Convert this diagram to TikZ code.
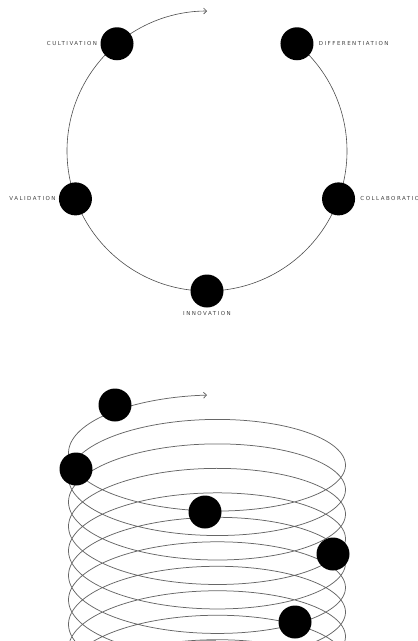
\documentclass[tikz,border=0pt]{standalone}
\usepackage{fontspec}
\newfontfamily\lblfont{DejaVu Sans}[LetterSpace=27]
\usetikzlibrary{arrows.meta}

\tikzset{
  dot/.style={circle, fill=black, minimum size=33pt, inner sep=0pt},
  lbl/.style={font=\lblfont\fontsize{5.5}{6.5}\selectfont, text=black!75, inner sep=0pt},
  ring/.style={draw=black!70, line width=0.6pt},
  coil/.style={draw=black!60, line width=0.75pt},
}

\begin{document}
\begin{tikzpicture}[x=1pt, y=1pt, >={Straight Barb[length=3pt]}]
  \useasboundingbox (0,0) rectangle (418,-641);
  % Cycle (top view)
  \begin{scope}[shift={(207,-151)}]
    \coordinate (cstart) at (50:140);
    \draw[ring, ->] (cstart) arc[start angle=50, end angle=-270, radius=140];
    \node[dot, label={[lbl, label distance=3pt]left:CULTIVATION}] (cult) at (130:140) {};
    \node[dot, label={[lbl, label distance=5pt]right:DIFFERENTIATION}] (diff) at (50:140) {};
    \node[dot, label={[lbl, label distance=3pt]left:VALIDATION}] (vali) at (200:140) {};
    \node[dot, label={[lbl, label distance=5pt]right:COLLABORATION}] (coll) at (-20:140) {};
    \node[dot, label={[lbl, label distance=4pt]below:INNOVATION}] (inno) at (-90:140) {};
  \end{scope}
  % Spiral (side view)
  \begin{scope}
    \clip (0,0) rectangle (418,-641);
    \draw[coil, <-, domain=90:3800, samples=700, smooth, variable=\t]
      plot ({207+138.5*cos(\t)}, {51.8*sin(\t)-0.068*\t-440.75});
    \node[dot] (scult) at (115,-405) {};
    \node[dot] (svali) at (76,-469) {};
    \node[dot] (sinno) at (205,-512) {};
    \node[dot] (scoll) at (333,-554) {};
    \node[dot] (sdiff) at (295,-622) {};
    \draw[black!40, line width=1pt] (198,-640.5) -- (216,-640.5);
  \end{scope}
\end{tikzpicture}
\end{document}
